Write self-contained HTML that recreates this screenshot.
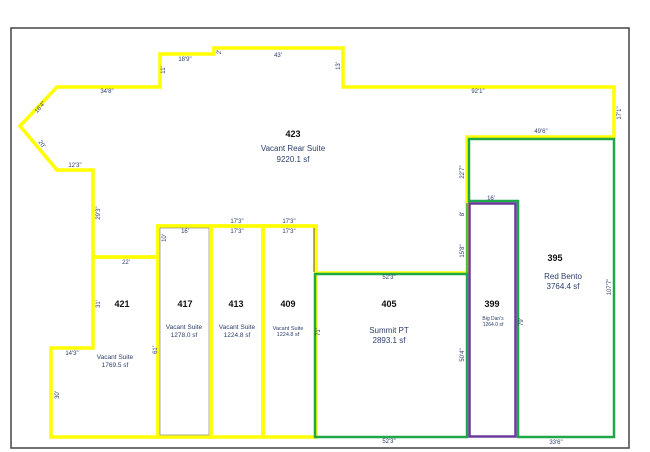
<!DOCTYPE html>
<html><head><meta charset="utf-8"><style>
html,body{margin:0;padding:0;background:#fff;}
svg{display:block;}
text{font-family:"Liberation Sans",sans-serif;fill:#2b3d6b;text-anchor:middle;}
.n{fill:#111;font-weight:bold;font-size:9px;}
.l{font-size:8px;}
.d{font-size:6px;}
</style></head><body>
<svg width="650" height="452" viewBox="0 0 650 452" xmlns="http://www.w3.org/2000/svg">
<rect x="11" y="28" width="618" height="420" fill="none" stroke="#444" stroke-width="1.5"/>
<!-- 423 outline -->
<polygon points="214,48 343,48 343,87 614,87 614,137 467,137 467,273 316,273 316,226 158,226 158,257 93,257 93,170 57,170 20,126 57,87 160,87 160,54 214,54" fill="none" stroke="#ffff00" stroke-width="3.5" stroke-linejoin="miter"/>
<!-- 421 -->
<polygon points="93,257 158,257 158,437 51,437 51,348 93,348" fill="none" stroke="#ffff00" stroke-width="3.5"/>
<!-- 417 413 409 -->
<rect x="158" y="226" width="53" height="211" fill="none" stroke="#ffff00" stroke-width="3.5"/>
<rect x="160" y="228" width="49" height="207" fill="none" stroke="#777" stroke-width="0.6"/>
<rect x="211" y="226" width="52" height="211" fill="none" stroke="#ffff00" stroke-width="3.5"/>
<rect x="263" y="226" width="53" height="211" fill="none" stroke="#ffff00" stroke-width="3.5"/>
<line x1="314" y1="228" x2="314" y2="272" stroke="#555" stroke-width="1"/>
<!-- 405 -->
<rect x="315" y="274" width="152" height="163" fill="none" stroke="#1fa84a" stroke-width="2.5"/>
<!-- 395 -->
<polygon points="469,139 614,139 614,437 518,437 518,201 469,201" fill="none" stroke="#1fa84a" stroke-width="2.5"/>
<!-- 399 -->
<rect x="469.5" y="203.5" width="46" height="233" fill="none" stroke="#6a3a9a" stroke-width="2.5"/>
<line x1="467" y1="203" x2="467" y2="437" stroke="#1fa84a" stroke-width="1.5"/>

<text class="n" x="293" y="137">423</text>
<text class="l" x="293" y="151">Vacant Rear Suite</text>
<text class="l" x="293" y="162">9220.1 sf</text>
<text class="n" x="122" y="307">421</text>
<text class="d" x="115" y="359" style="font-size:6.5px">Vacant Suite</text>
<text class="d" x="115" y="367" style="font-size:6.5px">1769.5 sf</text>
<text class="n" x="185" y="307">417</text>
<text class="d" x="184" y="329" style="font-size:6.5px">Vacant Suite</text>
<text class="d" x="184" y="337" style="font-size:6.5px">1278.0 sf</text>
<text class="n" x="236" y="307">413</text>
<text class="d" x="237" y="329" style="font-size:6.5px">Vacant Suite</text>
<text class="d" x="237" y="337" style="font-size:6.5px">1224.8 sf</text>
<text class="n" x="288" y="307">409</text>
<text class="d" x="288" y="330" style="font-size:5.5px">Vacant Suite</text>
<text class="d" x="288" y="336" style="font-size:5.5px">1224.8 sf</text>
<text class="n" x="389" y="307">405</text>
<text class="l" x="389" y="333">Summit PT</text>
<text class="l" x="389" y="343">2893.1 sf</text>
<text class="n" x="492" y="307">399</text>
<text class="d" x="493" y="320" style="font-size:5px">Big Dan's</text>
<text class="d" x="493" y="326" style="font-size:5px">1264.0 sf</text>
<text class="n" x="555" y="261">395</text>
<text class="l" x="563" y="279">Red Bento</text>
<text class="l" x="563" y="289">3764.4 sf</text>

<text class="d" x="185" y="61">18'9"</text>
<text class="d" x="219" y="54" transform="rotate(-90 219 52)">2'</text>
<text class="d" x="278" y="57">43'</text>
<text class="d" x="163" y="72" transform="rotate(-90 163 70)">11'</text>
<text class="d" x="338" y="68" transform="rotate(-90 338 66)">13'</text>
<text class="d" x="107" y="93">34'8"</text>
<text class="d" x="478" y="93">92'1"</text>
<text class="d" x="619" y="115" transform="rotate(-90 619 113)">17'1"</text>
<text class="d" x="40" y="109" transform="rotate(-50 40 107)">18'4"</text>
<text class="d" x="42" y="146" transform="rotate(55 42 144)">20'</text>
<text class="d" x="75" y="167">12'3"</text>
<text class="d" x="98" y="215" transform="rotate(-90 98 213)">29'3"</text>
<text class="d" x="541" y="133">49'6"</text>
<text class="d" x="462" y="174" transform="rotate(-90 462 172)">22'7"</text>
<text class="d" x="491" y="200">16'</text>
<text class="d" x="462" y="216" transform="rotate(-90 462 214)">8'</text>
<text class="d" x="462" y="253" transform="rotate(-90 462 251)">15'8"</text>
<text class="d" x="237" y="223">17'3"</text>
<text class="d" x="289" y="223">17'3"</text>
<text class="d" x="185" y="233">16'</text>
<text class="d" x="237" y="233">17'3"</text>
<text class="d" x="289" y="233">17'3"</text>
<text class="d" x="164" y="240" transform="rotate(-90 164 238)">10'</text>
<text class="d" x="126" y="264">22'</text>
<text class="d" x="98" y="306" transform="rotate(-90 98 304)">31'</text>
<text class="d" x="155" y="352" transform="rotate(-90 155 350)">61'</text>
<text class="d" x="72" y="355">14'3"</text>
<text class="d" x="57" y="397" transform="rotate(-90 57 395)">30'</text>
<text class="d" x="318" y="334" transform="rotate(-90 318 332)">71'</text>
<text class="d" x="389" y="279">52'3"</text>
<text class="d" x="462" y="357" transform="rotate(-90 462 355)">50'4"</text>
<text class="d" x="521" y="324" transform="rotate(-90 521 322)">79'</text>
<text class="d" x="609" y="289" transform="rotate(-90 609 287)">107'7"</text>
<text class="d" x="389" y="443">52'3"</text>
<text class="d" x="556" y="444">33'6"</text>
</svg>
</body></html>
